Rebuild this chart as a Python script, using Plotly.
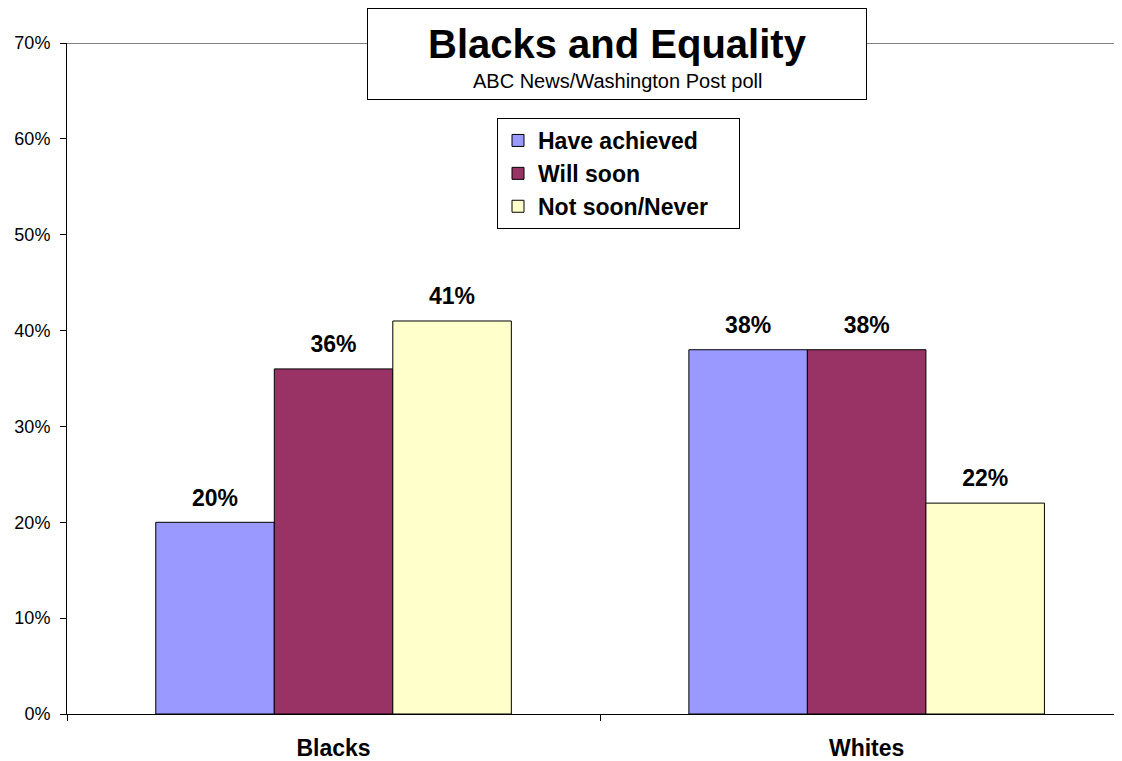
import plotly.graph_objects as go

# poll results, percent
groups = ["Blacks", "Whites"]
have_achieved = [20, 38]
will_soon = [36, 38]
not_soon_never = [41, 22]

series_names = ["Have achieved", "Will soon", "Not soon/Never"]
series_values = [have_achieved, will_soon, not_soon_never]
series_colors = ["#9999FF", "#993366", "#FFFFCC"]

y_max = 70
gap = 0.333

fig = go.Figure()
for name, vals, col in zip(series_names, series_values, series_colors):
    fig.add_trace(go.Bar(
        x=groups, y=vals, name="<b>%s</b>&nbsp;&nbsp;&nbsp;&nbsp;" % name,
        marker=dict(color=col, line=dict(color="black", width=1)),
        offsetgroup=name, hoverinfo="y",
    ))

# value labels, grouped the same way as the bars
for name, vals in zip(series_names, series_values):
    fig.add_trace(go.Scatter(
        x=groups, y=vals, mode="markers+text",
        text=["<b>%d%%</b>" % v for v in vals],
        textposition="top center",
        textfont=dict(size=23, color="black"),
        marker=dict(size=16, color="rgba(0,0,0,0)"),
        offsetgroup=name, showlegend=False, hoverinfo="skip",
        cliponaxis=False,
    ))

# the page body has an 8px margin, so the figure is 8px smaller and offset
fig.update_layout(
    width=1114, height=753,
    margin=dict(l=59, r=0, t=35, b=47, autoexpand=False),
    plot_bgcolor="white", paper_bgcolor="white",
    font=dict(family="Liberation Sans, Arial, sans-serif", color="black"),
    barmode="group", bargap=gap, bargroupgap=0,
    scattermode="group", scattergap=gap,
    showlegend=True,
    legend=dict(
        x=(497 - 67) / 1055, y=(714 - 173.5) / 671, xanchor="left", yanchor="middle",
        bordercolor="black", borderwidth=1, bgcolor="white",
        font=dict(size=23),
        tracegroupgap=0,
    ),
    xaxis=dict(
        range=[-0.5, 1.479],
        tickson="boundaries", ticks="outside", ticklen=6, tickcolor="black",
        showline=True, linecolor="black", linewidth=1,
        tickfont=dict(size=23),
        tickvals=groups, ticktext=["<b>%s</b>" % g for g in groups],
        ticklabelstandoff=13,
        showgrid=False, zeroline=False,
    ),
    yaxis=dict(
        range=[0, y_max], dtick=10, ticksuffix="%",
        ticks="outside", ticklen=6, tickcolor="black",
        showline=True, linecolor="black", linewidth=1,
        tickfont=dict(size=18), ticklabelstandoff=6,
        showgrid=False, zeroline=False,
    ),
)

# grey line across the top of the plot area
fig.add_shape(type="line", xref="paper", x0=0, x1=1, yref="y", y0=y_max, y1=y_max,
              line=dict(color="#808080", width=2), layer="below")

# boxed title: box first, then the two lines of text on top
fig.add_annotation(
    xref="paper", yref="paper", x=(617 - 67) / 1055, y=(714 - 54) / 671,
    xanchor="center", yanchor="middle", text=" ", showarrow=False,
    width=496, height=88, bgcolor="white", bordercolor="black", borderwidth=1,
)
fig.add_annotation(
    xref="paper", yref="paper", x=(617 - 67) / 1055, y=(714 - 44) / 671,
    xanchor="center", yanchor="middle", text="<b>Blacks and Equality</b>",
    font=dict(size=40), showarrow=False,
)
fig.add_annotation(
    xref="paper", yref="paper", x=(617 - 67) / 1055, y=(714 - 81) / 671,
    xanchor="center", yanchor="middle", text="ABC News/Washington Post poll",
    font=dict(size=20), showarrow=False,
)

fig.write_html("out.html")
